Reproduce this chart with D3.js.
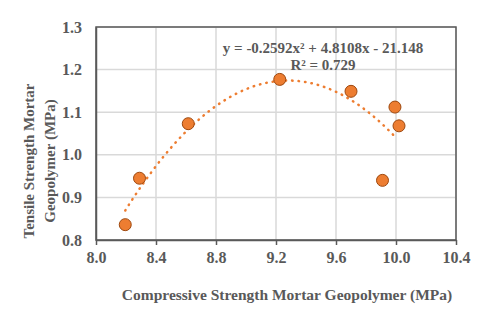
<!DOCTYPE html>
<html>
<head>
<meta charset="utf-8">
<script src="https://cdn.jsdelivr.net/npm/d3@7"></script>
<style>
  body { margin: 0; background: #fff; }
  text { font-family: "Liberation Serif", "Times New Roman", serif; font-weight: bold; fill: #595959; }
</style>
</head>
<body>
<div id="chart"></div>
<script>
// data
var compressive = [8.195, 8.29, 8.615, 9.225, 9.70, 9.993, 10.02, 9.91];
var tensile     = [0.836, 0.945, 1.073, 1.177, 1.149, 1.112, 1.068, 0.940];
var xTicks = [8.0, 8.4, 8.8, 9.2, 9.6, 10.0, 10.4];
var yTicks = [0.8, 0.9, 1.0, 1.1, 1.2, 1.3];
// trendline coefficients as shown on the chart (a, b, c)
var trendCoef = [-0.2592, 4.8108, -21.148];
var trendText = ["y = -0.2592x\u00B2 + 4.8108x - 21.148", "R\u00B2 = 0.729"];

var svgWidth = 480, svgHeight = 310;
var margin = { top: 27, right: 24, bottom: 70, left: 96 };
var width = svgWidth - margin.left - margin.right;
var height = svgHeight - margin.top - margin.bottom;

var svg = d3.select("#chart").append("svg")
  .attr("width", svgWidth)
  .attr("height", svgHeight);

var chartGroup = svg.append("g")
  .attr("transform", `translate(${margin.left}, ${margin.top})`);

var x = d3.scaleLinear().domain([8.0, 10.4]).range([0, width]);
var y = d3.scaleLinear().domain([0.8, 1.3]).range([height, 0]);

// gridlines
chartGroup.append("g").selectAll("line")
  .data(xTicks).enter().append("line")
  .attr("x1", d => x(d)).attr("x2", d => x(d))
  .attr("y1", 0).attr("y2", height)
  .attr("stroke", "#d9d9d9").attr("stroke-width", 1.5);

chartGroup.append("g").selectAll("line")
  .data(yTicks).enter().append("line")
  .attr("x1", 0).attr("x2", width)
  .attr("y1", d => y(d)).attr("y2", d => y(d))
  .attr("stroke", "#d9d9d9").attr("stroke-width", 1.5);

// plot border
chartGroup.append("rect")
  .attr("width", width).attr("height", height)
  .attr("fill", "none").attr("stroke", "#595959").attr("stroke-width", 1.5);

// axes
var xAxis = chartGroup.append("g")
  .attr("transform", `translate(0, ${height})`)
  .call(d3.axisBottom(x).tickValues(xTicks).tickFormat(d3.format(".1f")).tickSizeInner(5).tickSizeOuter(0).tickPadding(7));
xAxis.select(".domain").attr("stroke", "#595959").attr("stroke-width", 1.5);
xAxis.selectAll(".tick line").attr("stroke", "#595959").attr("stroke-width", 1.5);
xAxis.selectAll("text").style("font-size", "16px").attr("font-family", null);

var yAxis = chartGroup.append("g")
  .call(d3.axisLeft(y).tickValues(yTicks).tickFormat(d3.format(".1f")).tickSize(0).tickPadding(14));
yAxis.select(".domain").attr("stroke", "#595959").attr("stroke-width", 1.5);
yAxis.selectAll("text").style("font-size", "16px").attr("font-family", null);

// trendline
var trendX = d3.range(d3.min(compressive), d3.max(compressive) - 0.01, 0.02);
var trendLine = d3.line()
  .x(d => x(d))
  .y(d => y(trendCoef[0] * d * d + trendCoef[1] * d + trendCoef[2]))
  .curve(d3.curveMonotoneX);

chartGroup.append("path")
  .datum(trendX)
  .attr("d", trendLine)
  .attr("fill", "none")
  .attr("stroke", "#ED7D31")
  .attr("stroke-width", 2.5)
  .attr("stroke-linecap", "round")
  .attr("stroke-dasharray", "0.5,6");

// points
chartGroup.selectAll("circle")
  .data(d3.zip(compressive, tensile))
  .enter().append("circle")
  .attr("cx", d => x(d[0]))
  .attr("cy", d => y(d[1]))
  .attr("r", 6)
  .attr("fill", "#ED7D31")
  .attr("stroke", "#9E480E")
  .attr("stroke-width", 1);

// equation label
chartGroup.append("text")
  .attr("x", 227).attr("y", 26)
  .attr("text-anchor", "middle")
  .style("font-size", "15px")
  .text(trendText[0]);
chartGroup.append("text")
  .attr("x", 227).attr("y", 43)
  .attr("text-anchor", "middle")
  .style("font-size", "15px")
  .text(trendText[1]);

// axis labels
svg.append("text")
  .attr("transform", "translate(34, 161) rotate(-90)")
  .attr("text-anchor", "middle")
  .style("font-size", "15px")
  .text("Tensile Strength Mortar");
svg.append("text")
  .attr("transform", "translate(55, 161) rotate(-90)")
  .attr("text-anchor", "middle")
  .style("font-size", "15px")
  .text("Geopolymer (MPa)");

svg.append("text")
  .attr("x", 287).attr("y", 300)
  .attr("text-anchor", "middle")
  .style("font-size", "15.5px")
  .text("Compressive Strength Mortar Geopolymer (MPa)");
</script>
</body>
</html>
